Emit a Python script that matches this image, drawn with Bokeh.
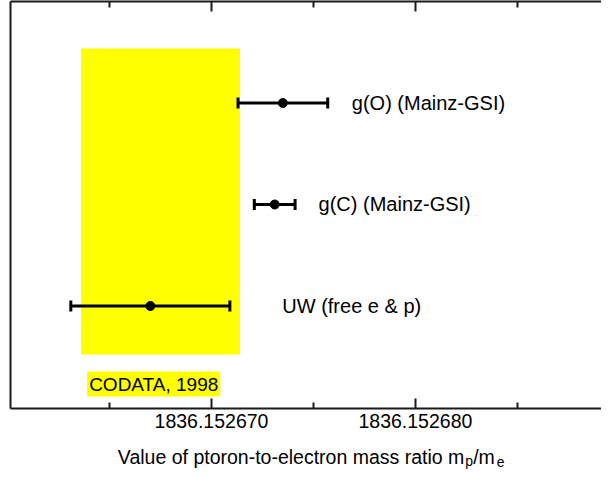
from bokeh.plotting import figure
from bokeh.layouts import column
from bokeh.models import (Range1d, LinearAxis, FixedTicker, PrintfTickFormatter,
                          CustomJSTickFormatter, Whisker, TeeHead, ColumnDataSource, Label)
from bokeh.core.properties import value
from bokeh.embed import file_html
from bokeh.resources import INLINE

# ---- data ----
names = ["g(O) (Mainz-GSI)", "g(C) (Mainz-GSI)", "UW (free e & p)"]
values = [1836.1526735, 1836.1526731, 1836.1526670]
uncert = [0.0000022, 0.0000010, 0.0000039]
rows = [3, 2, 1]
codata_label = "CODATA, 1998"
codata_value = 1836.1526675
codata_uncert = 0.0000039
major_ticks = [1836.152670, 1836.152680]
minor_ticks = [1836.152665, 1836.152675, 1836.152685]
title_parts = ["Value of ptoron-to-electron mass ratio m", "p", "/m", "e"]

# ---- layout (positions of texts / band) ----
label_x = [1836.15267688, 1836.15267525, 1836.15267347]
band_bottom, band_top = 0.522, 3.536

FONT = "Liberation Sans"
AX = "#1a1a1a"

p = figure(width=601, height=434, output_backend="svg", toolbar_location=None,
           x_range=Range1d(1836.152660142, 1836.152689127),
           y_range=Range1d(-0.01, 4.0),
           x_axis_location=None, y_axis_location=None,
           min_border_left=10, min_border_right=0, min_border_top=1, min_border_bottom=26)
p.outline_line_color = None
p.background_fill_color = "white"
p.border_fill_color = "white"
for g in p.grid:
    g.visible = False

def style(ax):
    ax.axis_line_color = AX
    ax.axis_line_width = 2
    ax.major_tick_line_color = AX
    ax.minor_tick_line_color = AX
    ax.major_tick_line_width = 2
    ax.minor_tick_line_width = 2
    ax.major_tick_in = 10
    ax.major_tick_out = 0
    ax.minor_tick_in = 6
    ax.minor_tick_out = 0

xb = LinearAxis(ticker=FixedTicker(ticks=major_ticks, minor_ticks=minor_ticks),
                formatter=PrintfTickFormatter(format="%.6f"))
style(xb)
xb.major_label_text_font = FONT
xb.major_label_text_font_size = "19.5px"
xb.major_label_text_color = "black"
xb.major_label_standoff = 5
p.add_layout(xb, "below")

xt = LinearAxis(ticker=FixedTicker(ticks=major_ticks, minor_ticks=minor_ticks),
                formatter=CustomJSTickFormatter(code="return ''"))
style(xt)
xt.major_label_standoff = 0
xt.major_label_text_font_size = "1px"
p.add_layout(xt, "above")

yl = LinearAxis(ticker=FixedTicker(ticks=[]), formatter=CustomJSTickFormatter(code="return ''"))
yl.axis_line_color = AX
yl.axis_line_width = 2
yl.major_tick_in = 0
yl.major_tick_out = 0
yl.minor_tick_in = 0
yl.minor_tick_out = 0
yl.major_label_standoff = 0
yl.major_label_text_font_size = "1px"
p.add_layout(yl, "left")

# CODATA band
p.quad(left=[codata_value - codata_uncert], right=[codata_value + codata_uncert],
       bottom=[band_bottom], top=[band_top], fill_color="#FFFF00", line_color=None)

src = ColumnDataSource(dict(
    x=values, y=rows,
    lower=[v - e for v, e in zip(values, uncert)],
    upper=[v + e for v, e in zip(values, uncert)],
    name=names, lx=label_x))

w = Whisker(source=src, base="y", lower="lower", upper="upper", dimension="width",
            line_color="black", line_width=3, level="overlay",
            lower_head=TeeHead(size=11, line_width=3, line_color="black"),
            upper_head=TeeHead(size=11, line_width=3, line_color="black"))
p.add_layout(w)
p.scatter("x", "y", source=src, size=9, color="black", level="overlay")

p.text(x="lx", y="y", text="name", source=src, text_font=value(FONT),
       text_font_size="20px", text_baseline="middle", text_align="left", text_color="black")

p.add_layout(Label(x=1836.15266390, y=0.2313, text=codata_label, text_font=FONT,
                   text_font_size="19px", text_baseline="middle", text_align="left",
                   text_color="black", background_fill_color="#FFFF00", padding=2))

# ---- x-axis title with subscripts (separate strip below the plot) ----
t = figure(width=601, height=36, output_backend="svg", toolbar_location=None,
           x_range=Range1d(0, 601), y_range=Range1d(0, 36),
           x_axis_location=None, y_axis_location=None, title=None,
           min_border_left=0, min_border_right=0, min_border_top=0, min_border_bottom=0)
t.outline_line_color = None
for g in t.grid:
    g.visible = False
t_src = ColumnDataSource(dict(
    x=[461.5, 462.5, 470.5, 494.5],
    y=[13.5, 10, 13.5, 9],
    text=title_parts,
    size=["19.5px", "14px", "19.5px", "14px"],
    align=["right", "left", "left", "left"]))
t.text(x="x", y="y", text="text", source=t_src, text_font=value(FONT),
       text_font_size="size", text_align="align", text_baseline="alphabetic",
       text_color="black")

layout = column(p, t, spacing=0)
open("out.html", "w").write(file_html(layout, INLINE))
